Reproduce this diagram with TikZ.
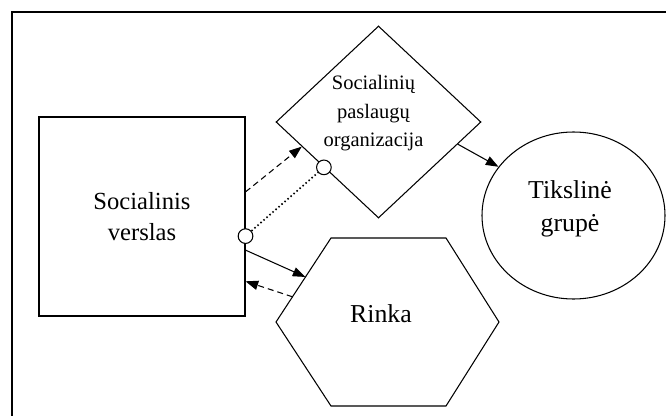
\documentclass[tikz,border=0pt]{standalone}
\usepackage{fontspec}
\setmainfont{Liberation Serif}
\usepackage{tikz}
\usetikzlibrary{arrows.meta,positioning,shapes.geometric,calc}

\begin{document}
\begin{tikzpicture}[
  x=0.3mm, y=-0.3mm,
  line width=0.9pt,
  font=\fontsize{21}{26.5}\selectfont,
  box/.style={draw, minimum width=61.8mm, minimum height=59.7mm, align=center, inner sep=0pt},
  dia/.style={draw, diamond, minimum width=61.5mm, minimum height=57.6mm, inner sep=0pt},
  oval/.style={draw, ellipse, minimum width=54.9mm, minimum height=50.1mm, inner sep=0pt},
  lbl/.style={align=center, inner sep=0pt},
  port/.style={draw, circle, fill=white, minimum size=4.4mm, inner sep=0pt},
  arr/.style={-{Triangle[length=3.8mm, width=2.8mm]}},
  darr/.style={arr, dash pattern=on 1.8mm off 1.2mm},
  dots/.style={line width=1.4pt, dash pattern=on 0.45mm off 0.75mm}
]
\useasboundingbox (0,0) rectangle (666,416);
% frame, cut by the page on the right and below
\draw (666,12) -- (12,12) -- (12,416);

\node[box] (sv) at (142,216.5) {Socialinis\\verslas};
\node[dia] (org) at (378.5,122) {};
\node[lbl, font=\fontsize{17.5}{24.3}\selectfont] (orgt) at (373.5,113.5) {Socialinių\\paslaugų\\organizacija};
\node[oval] (tg) at (573.5,215.5) {};
\node[lbl, font=\fontsize{22}{28}\selectfont] (tgt) at (570,209) {Tikslinė\\grupė};

% hexagon
\coordinate (rk-l) at (276,322);
\coordinate (rk-tl) at (331,238);
\coordinate (rk-tr) at (446,238);
\coordinate (rk-r) at (499,322);
\coordinate (rk-br) at (446,406);
\coordinate (rk-bl) at (331,406);
\draw (rk-l) -- (rk-tl) -- (rk-tr) -- (rk-r) -- (rk-br) -- (rk-bl) -- cycle;
\node[lbl, font=\fontsize{22}{28}\selectfont] (rk) at (381,313.5) {Rinka};

% connectors
\draw[darr] ($(sv.north east)!0.377!(sv.south east)$) -- ($(org.west)!0.255!(org.south)$);
\node[port] (p1) at ($(sv.north east)!0.598!(sv.south east)$) {};
\node[port] (p2) at ($(org.west)!0.47!(org.south)$) {};
\draw[dots] (p1) -- (p2);
\draw[arr] ($(sv.north east)!0.668!(sv.south east)$) -- ($(rk-tl)!0.464!(rk-l)$);
\draw[darr] ($(rk-tl)!0.70!(rk-l)$) -- ($(sv.north east)!0.824!(sv.south east)$);
\draw[arr] ($(org.east)!0.23!(org.south)$) -- (tg.147);
\end{tikzpicture}
\end{document}
